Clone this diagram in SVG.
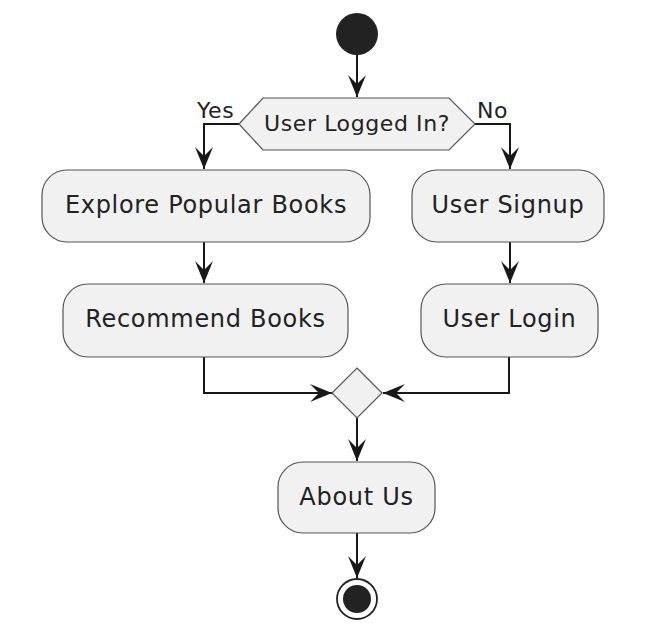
<svg xmlns="http://www.w3.org/2000/svg" width="655" height="637" viewBox="0 0 655 637">
<defs>
<marker id="arr" markerUnits="userSpaceOnUse" markerWidth="24" markerHeight="24" viewBox="-22 -10 24 20" refX="0" refY="0" orient="auto">
<polygon points="0,0 -22,-9 -13,0 -22,9" fill="#181818"/>
</marker>
<style>
.box{fill:#F1F1F1;stroke:#555;stroke-width:1.2}
.t{font-family:"DejaVu Sans",sans-serif;font-size:24px;fill:#222;text-anchor:middle;letter-spacing:0.7px}
.s{font-family:"DejaVu Sans",sans-serif;font-size:22px;fill:#222;letter-spacing:0.6px}
.c{fill:none;stroke:#181818;stroke-width:2}
</style>
</defs>
<rect width="655" height="637" fill="#fff"/>
<g id="connectors">
<path class="c" d="M357,55 V97" marker-end="url(#arr)"/>
<path class="c" d="M239,124 H204 V169" marker-end="url(#arr)"/>
<path class="c" d="M475,124 H510 V169" marker-end="url(#arr)"/>
<path class="c" d="M204,242 V283" marker-end="url(#arr)"/>
<path class="c" d="M510,242 V283" marker-end="url(#arr)"/>
<path class="c" d="M204,357 V393 H332" marker-end="url(#arr)"/>
<path class="c" d="M509,357 V393 H383" marker-end="url(#arr)"/>
<path class="c" d="M357,418 V461" marker-end="url(#arr)"/>
<path class="c" d="M357,533 V578" marker-end="url(#arr)"/>
<text class="s" x="197" y="118">Yes</text>
<text class="s" x="477" y="118">No</text>
</g>
<g id="start"><circle cx="357" cy="34" r="21" fill="#222"/></g>
<g id="decision">
<polygon class="box" points="239,124 263,98 449,98 475,124 449,150 263,150"/>
<text class="s" x="357" y="131" text-anchor="middle">User Logged In?</text>
</g>
<g id="explore">
<rect class="box" x="42" y="170" width="328" height="72" rx="25"/>
<text class="t" x="206" y="213">Explore Popular Books</text>
</g>
<g id="recommend">
<rect class="box" x="63" y="284" width="285" height="73" rx="25"/>
<text class="t" x="205.5" y="327">Recommend Books</text>
</g>
<g id="signup">
<rect class="box" x="412" y="170" width="192" height="72" rx="25"/>
<text class="t" x="508" y="213">User Signup</text>
</g>
<g id="login">
<rect class="box" x="421" y="284" width="177" height="73" rx="25"/>
<text class="t" x="509.5" y="327">User Login</text>
</g>
<g id="merge">
<polygon class="box" points="357,368 382,393 357,418 332,393"/>
</g>
<g id="about">
<rect class="box" x="278" y="462" width="157" height="71" rx="25"/>
<text class="t" x="356.5" y="505">About Us</text>
</g>
<g id="end">
<circle cx="357" cy="599" r="20" fill="#fff" stroke="#222" stroke-width="1.8"/>
<circle cx="357" cy="599" r="14" fill="#222"/>
</g>
</svg>
